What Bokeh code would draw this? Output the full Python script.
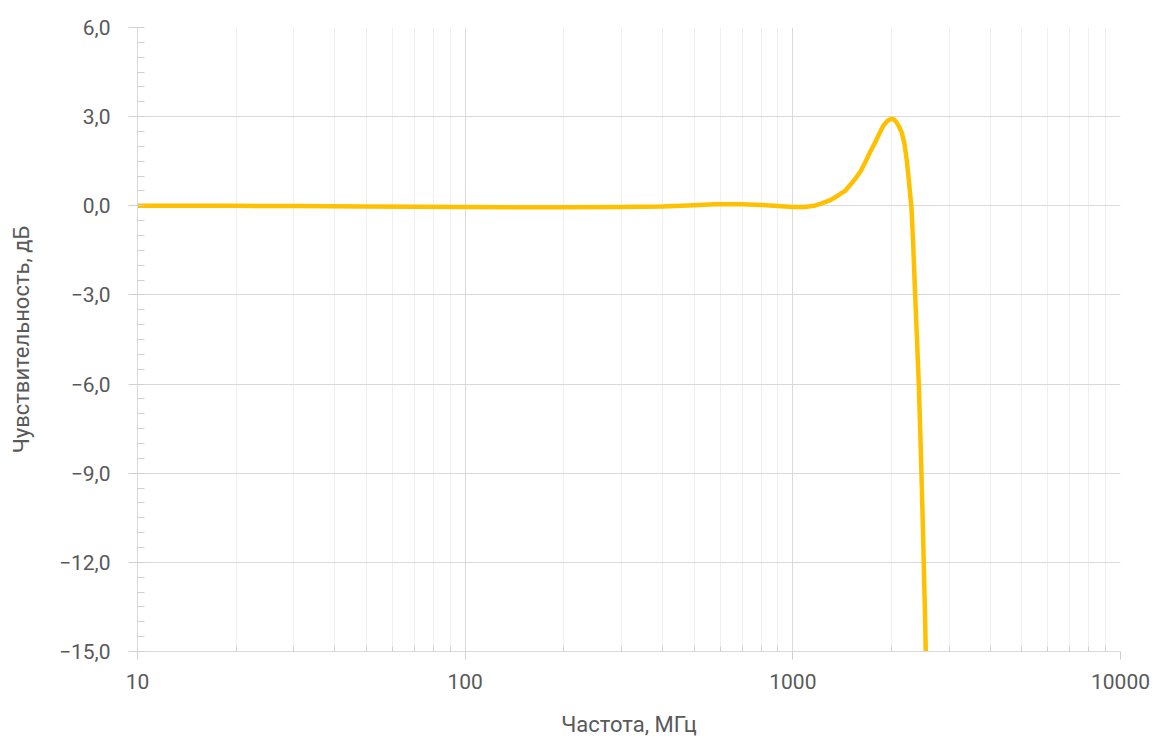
from bokeh.plotting import figure
from bokeh.models import FixedTicker, Range1d
from bokeh.embed import file_html
from bokeh.resources import INLINE

# Data
freq_mhz = [10, 15, 20, 30, 50, 70, 100, 150, 200, 300, 400, 500, 580, 700, 800,
            900, 1000, 1090, 1160, 1225, 1290, 1345, 1443, 1549, 1610, 1662, 1720,
            1783, 1840, 1890, 1945, 2000, 2040, 2075, 2110, 2149, 2190, 2226, 2260,
            2282, 2300, 2330, 2362, 2395, 2423, 2447, 2469, 2490, 2509, 2528, 2545, 2570]
gain_db = [0.0, 0.0, 0.0, -0.01, -0.02, -0.03, -0.04, -0.05, -0.05, -0.04, -0.02, 0.02,
           0.05, 0.05, 0.03, -0.01, -0.04, -0.04, 0.0, 0.08, 0.17, 0.28, 0.5, 0.9, 1.16,
           1.46, 1.8, 2.13, 2.45, 2.7, 2.86, 2.93, 2.9, 2.8, 2.66, 2.47, 2.1, 1.55, 0.84,
           0.35, 0.0, -1.3, -3.0, -4.6, -6.0, -7.5, -9.0, -10.5, -12.0, -13.5, -15.0, -17.0]

x_ticks = [10, 100, 1000, 10000]
x_tick_labels = ["10", "100", "1000", "10000"]
x_minor = [m * d for d in (10, 100, 1000) for m in range(2, 10)]
y_ticks = [-15, -12, -9, -6, -3, 0, 3, 6]
y_tick_labels = ["\u221215,0", "\u221212,0", "\u22129,0", "\u22126,0", "\u22123,0", "0,0", "3,0", "6,0"]
y_minor = [v / 2 for v in range(-30, 13)]

FONT = "Roboto"
TXT = "#595959"

p = figure(x_axis_type="log", output_backend="svg", toolbar_location=None,
           frame_width=983, frame_height=624,
           min_border_left=137, min_border_right=35, min_border_top=27, min_border_bottom=83,
           x_range=Range1d(10, 10000), y_range=Range1d(-15, 6))
p.outline_line_color = None
p.background_fill_color = "white"
p.border_fill_color = "white"

p.line(freq_mhz, gain_db, line_color="#FFC000", line_width=4.5, line_join="round")

# x axis
xa = p.xaxis[0]
xa.ticker = FixedTicker(ticks=x_ticks, minor_ticks=x_minor)
xa.major_label_overrides = {t: l for t, l in zip(x_ticks, x_tick_labels)}
xa.axis_label = "Частота, МГц"
xa.axis_line_color = "#d9d9d9"
xa.major_tick_line_color = "#d0d0d0"
xa.minor_tick_line_color = "#d0d0d0"
xa.major_tick_in = 0
xa.major_tick_out = 8
xa.minor_tick_in = 5
xa.minor_tick_out = 0
xa.major_label_standoff = 14
xa.axis_label_standoff = 20

# y axis
ya = p.yaxis[0]
ya.ticker = FixedTicker(ticks=y_ticks, minor_ticks=y_minor)
ya.major_label_overrides = {t: l for t, l in zip(y_ticks, y_tick_labels)}
ya.axis_label = "Чувствительность, дБ"
ya.axis_line_color = "#d9d9d9"
ya.major_tick_line_color = "#d0d0d0"
ya.minor_tick_line_color = "#d0d0d0"
ya.major_tick_in = 0
ya.major_tick_out = 9
ya.minor_tick_in = 7
ya.minor_tick_out = 0
ya.major_label_standoff = 18
ya.axis_label_standoff = 22

for ax in (xa, ya):
    ax.major_label_text_font = FONT
    ax.major_label_text_font_size = "21px"
    ax.major_label_text_color = TXT
    ax.axis_label_text_font = FONT
    ax.axis_label_text_font_size = "22px"
    ax.axis_label_text_font_style = "normal"
    ax.axis_label_text_color = TXT

p.xgrid.ticker = xa.ticker
p.ygrid.ticker = ya.ticker
p.xgrid.grid_line_color = "#d9d9d9"
p.xgrid.minor_grid_line_color = "#efefef"
p.ygrid.grid_line_color = "#d9d9d9"
p.ygrid.minor_grid_line_color = None

open("out.html", "w").write(file_html(p, INLINE))
